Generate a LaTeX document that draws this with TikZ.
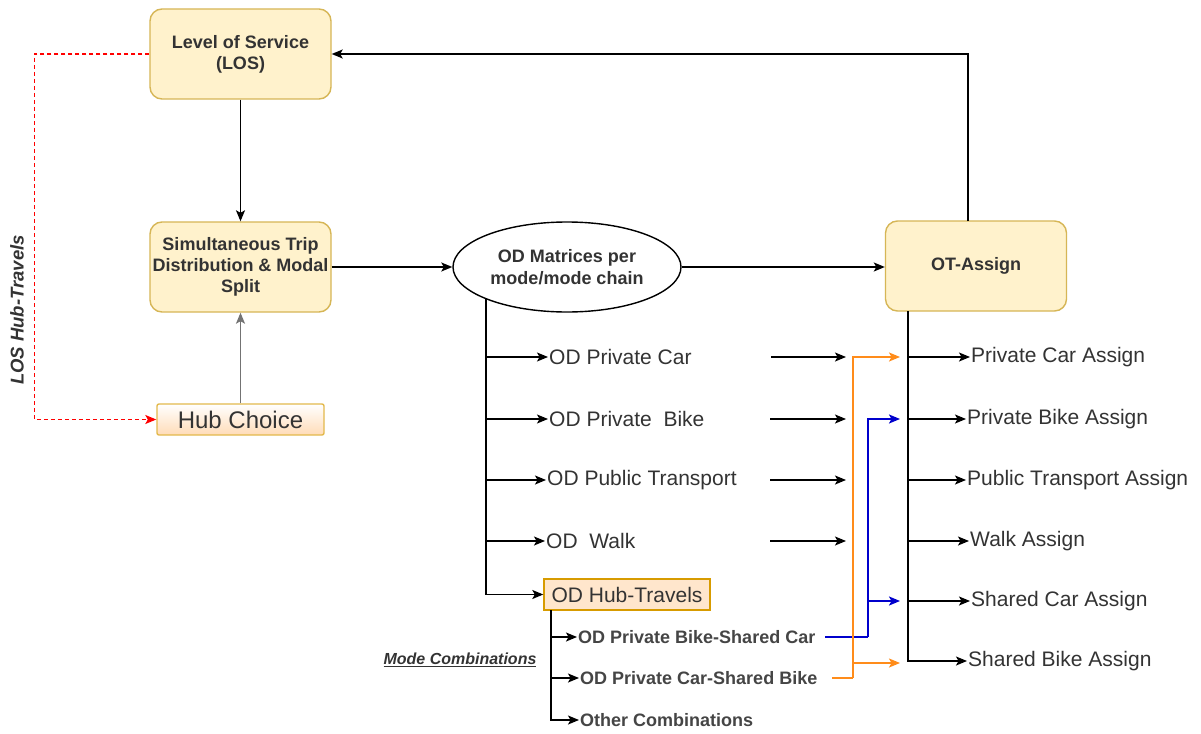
\documentclass[tikz,border=0pt]{standalone}
\usepackage{fontspec}
\setmainfont{Liberation Sans}
\usetikzlibrary{arrows.meta,shapes.geometric}
\definecolor{boxfill}{HTML}{FFF2CC}
\definecolor{boxdraw}{HTML}{D6B656}
\definecolor{hubfill}{HTML}{FFE6CC}
\definecolor{hubdraw}{HTML}{D79B00}
\definecolor{txt}{HTML}{333333}
\definecolor{subtxt}{HTML}{454545}
\definecolor{myorange}{HTML}{FF8C1A}
\definecolor{myblue}{HTML}{0000CC}
\definecolor{myred}{HTML}{FF0000}
\tikzset{
  x=1pt, y=-1pt,
  box/.style={draw=boxdraw, fill=boxfill, rounded corners=12pt, line width=1.4pt,
    minimum width=181pt, minimum height=90pt, align=center, inner sep=2pt,
    font=\bfseries\fontsize{18}{21}\selectfont, text=txt},
  lbl/.style={anchor=west, inner sep=1pt, text=txt, font=\fontsize{21}{24}\selectfont},
  sublbl/.style={anchor=west, inner sep=1pt, text=subtxt, font=\bfseries\fontsize{18}{21}\selectfont},
  tip/.style={-{Stealth[length=11pt,width=9pt,inset=2.5pt]}},
  conn/.style={line width=1.4pt, black, tip},
  bluec/.style={line width=1.8pt, myblue},
  orangec/.style={line width=1.6pt, myorange},
}
\begin{document}
\begin{tikzpicture}
\useasboundingbox[fill=white] (0,0) rectangle (1201,733);

% main boxes
\node[box] (los) at (240.5,54) {Level of Service\\(LOS)};
\node[box] (std) at (240.5,267) {Simultaneous Trip\\Distribution \& Modal\\Split};
\node[box] (ot) at (976,266) {OT-Assign};
\node[draw=black, line width=1.4pt, ellipse, minimum width=228pt, minimum height=90pt,
  align=center, inner sep=0pt, text=txt, font=\bfseries\fontsize{18}{22}\selectfont]
  (odm) at (567,267) {OD Matrices per\\mode/mode chain};
\node[draw=hubdraw!70, top color=white, bottom color=hubfill!90!orange, line width=1.4pt,
  rounded corners=2pt, minimum width=167pt, minimum height=31pt, inner sep=0pt,
  text=txt, font=\fontsize{24}{26}\selectfont] (hub) at (240.5,419.5) {Hub Choice};

% labels
\node[rotate=90, text=txt, font=\bfseries\itshape\fontsize{18.5}{20}\selectfont] (loslbl) at (17,310) {LOS Hub-Travels};
\node[text=txt, font=\bfseries\itshape\fontsize{16}{18}\selectfont] (modec) at (460,660) {\underline{Mode Combinations}};

% main connectors
\coordinate (losw) at (150,54);
\draw[conn] (los) -- (std);
\draw[line width=1.4pt, black!55, tip] (hub) -- (std);
\draw[line width=1.4pt, myred, dash pattern=on 4pt off 3pt, tip] (los.west) -- ++(-115,0) |- (hub.west);
\draw[conn] (std.east |- odm) -- (odm);
\draw[conn] (odm) -- (ot.west |- odm);
\coordinate (otn) at (968,221);
\draw[conn] (otn) |- (los.east);

% left OD labels
\node[lbl] (pc) at (548,357) {OD Private Car};
\node[lbl] (pb) at (548,419) {OD Private\ \ Bike};
\node[lbl] (pt) at (546,480) {OD Public Transport};
\node[lbl] (wk) at (545,541) {OD\ \ Walk};
\node[draw=hubdraw, fill=hubfill, line width=1.4pt, minimum width=166pt, minimum height=31pt,
  inner sep=0pt, text=txt, font=\fontsize{21}{24}\selectfont] (ht) at (627,594.5) {OD Hub-Travels};

\coordinate (tr0) at (486,298);
\draw[conn] (tr0) |- (ht.west);
\foreach \n in {pc,pb,pt,wk}{\draw[conn] (tr0 |- \n.west) -- (\n.west);}

% free arrows
\foreach \y/\s in {357/771,419/770,480/770,541/770}{
  \coordinate (fs\y) at (\s,\y);
  \coordinate (fe\y) at (846,\y);
  \draw[conn] (fs\y) -- (fe\y);
}

% sub combinations
\node[sublbl] (pbsc) at (577,637) {OD Private Bike-Shared Car};
\node[sublbl] (pcsb) at (579,678) {OD Private Car-Shared Bike};
\node[sublbl] (oc) at (579,720) {Other Combinations};
\coordinate (hb) at (551,610);
\draw[conn] (hb) |- (oc.west);
\foreach \n in {pbsc,pcsb}{\draw[conn] (hb |- \n.west) -- (\n.west);}

% right assign labels
\node[lbl] (pca) at (970,357) {Private Car Assign};
\node[lbl] (pba) at (966,419) {Private Bike Assign};
\node[lbl] (pta) at (966,480) {Public Transport Assign};
\node[lbl] (wa) at (969,541) {Walk Assign};
\node[lbl] (sca) at (970,601) {Shared Car Assign};
\node[lbl] (sba) at (967,661) {Shared Bike Assign};
\coordinate (otb) at (908,311);
\draw[conn] (otb) |- (sba.west);
\foreach \n in {pca,pba,pta,wa,sca}{\draw[conn] (otb |- \n.west) -- (\n.west);}

% coloured connectors
\coordinate (b0) at (825,637);
\coordinate (bv) at (868,637);
\coordinate (bt1) at (900,419);
\coordinate (bt2) at (900,601);
\draw[bluec] (b0) -- (bv);
\draw[bluec, tip] (bv) |- (bt1);
\draw[bluec, tip] (bv |- bt2) -- (bt2);

\coordinate (o0) at (832,678);
\coordinate (ov) at (853,678);
\coordinate (ot1) at (900,357);
\coordinate (ot2) at (900,663);
\draw[orangec] (o0) -- (ov);
\draw[orangec, tip] (ov) |- (ot1);
\draw[orangec, tip] (ov |- ot2) -- (ot2);
\end{tikzpicture}
\end{document}
